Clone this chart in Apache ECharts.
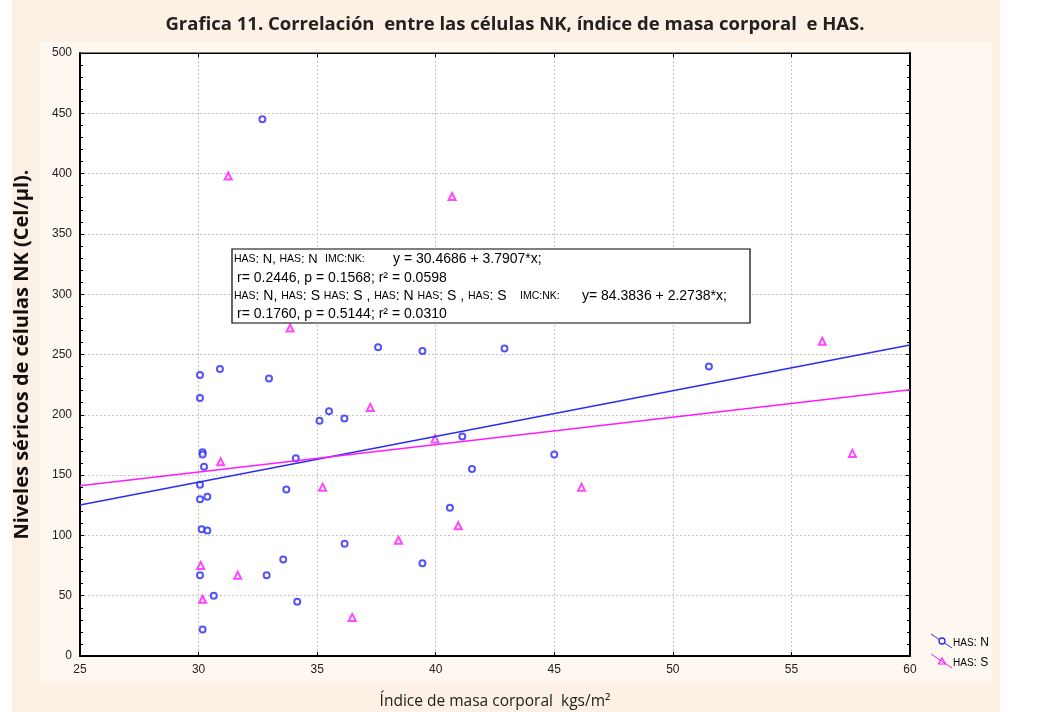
<!DOCTYPE html>
<html>
<head>
<meta charset="utf-8">
<script src="https://cdn.jsdelivr.net/npm/echarts@6/dist/echarts.min.js"></script>
<style>
html,body{margin:0;padding:0;background:#fff;}
#c{width:1052px;height:712px;}
</style>
</head>
<body>
<div id="c"></div>
<script>
// ---- data ----
const title = 'Grafica 11. Correlación  entre las células NK, índice de masa corporal  e HAS.';
const xName = 'Índice de masa corporal  kgs/m²';
const yName = 'Niveles séricos de células NK (Cel/µl).';
const seriesNames = ['HAS: N', 'HAS: S'];

// HAS: N (blue circles)
const nX = [32.69, 30.06, 30.9, 32.97, 30.06, 37.57, 39.44, 42.9, 51.52, 35.5, 35.1, 36.15,
            30.17, 30.17, 30.23, 34.1, 41.12, 41.53, 45.0, 30.06, 33.7, 30.06, 30.37,
            30.13, 30.37, 40.6, 33.57, 30.06, 32.87, 30.64, 34.16, 30.17, 36.16, 39.44];
const nY = [445, 233, 238, 230, 214, 256, 253, 255, 240, 203, 195, 197,
            169, 167, 157, 164, 182, 155, 167, 142, 138, 130, 132,
            105, 104, 123, 80, 67, 67, 50, 45, 22, 93, 77];

// HAS: S (magenta triangles)
const sX = [31.25, 40.69, 33.86, 37.24, 30.93, 35.23, 38.43, 30.09, 31.65, 30.17, 36.48,
            39.97, 40.95, 46.15, 56.3, 57.57];
const sY = [398, 381, 272, 206, 161, 140, 96, 75, 67, 47, 32,
            180, 108, 140, 261, 168];

// regression lines (end points, x = 25 and x = 60)
const fitN = [[25, 125.2], [60, 257.9]];
const fitS = [[25, 141.2], [60, 220.8]];

const xTicks = {min: 25, max: 60, interval: 5};
const yTicks = {min: 0, max: 500, interval: 50};

// stats box text, by line: [group label, "IMC:NK:", equation] or a single text
const boxLine1 = ['{g|HAS}{a|: N, }{g|HAS}{a|: N}', '{g|IMC:NK:}', '{b|y = 30.4686 + 3.7907*x;}'];
const boxLine2 = '{b|r= 0.2446, p = 0.1568; r² = 0.0598}';
const boxLine3 = ['{g|HAS}{b|: N, }{g|HAS}{b|: S }{g|HAS}{b|: S , }{g|HAS}{b|: N }{g|HAS}{b|: S , }{g|HAS}{b|: S}', '{g|IMC:NK:}', '{b|y= 84.3836 + 2.2738*x;}'];
const boxLine4 = '{b|r= 0.1760, p = 0.5144; r² = 0.0310}';

// ---- chart ----
const blue = '#2b2bf5';
const pink = '#ff1aff';
const nData = nX.map((x, i) => [x, nY[i]]);
const sData = sX.map((x, i) => [x, sY[i]]);

const chart = echarts.init(document.getElementById('c'), null, {renderer: 'canvas'});

const richStyles = {
  g: {fontSize: 10.5, color: '#808080', fontFamily: 'Liberation Sans, Arial'},
  a: {fontSize: 13, color: '#000', fontFamily: 'Liberation Sans, Arial'},
  b: {fontSize: 14, color: '#000', fontFamily: 'Liberation Sans, Arial'}
};

const graphics = [
  {type: 'rect', z: -10, silent: true, shape: {x: 12, y: 0, width: 988, height: 712}, style: {fill: '#fcf1e4'}},
  {type: 'rect', z: -9, silent: true, shape: {x: 40, y: 42, width: 952, height: 641}, style: {fill: '#fef8f0'}},
  {type: 'rect', z: 20, shape: {x: 232, y: 249, width: 518, height: 74}, style: {fill: '#fff', stroke: '#000', lineWidth: 1.2}},
];
function addText(t, x, y) {
  graphics.push({type: 'text', z: 21, x: x, y: y,
    style: {text: t, rich: richStyles, verticalAlign: 'middle', align: 'left'}});
}
addText(boxLine1[0], 234, 259);
addText(boxLine1[1], 325, 259);
addText(boxLine1[2], 393, 259);
addText(boxLine2, 237, 278);
addText(boxLine3[0], 234, 296);
addText(boxLine3[1], 520, 296);
addText(boxLine3[2], 582, 296);
addText(boxLine4, 237, 314);

// bottom-right legend
const legY = [641, 661];
const legItems = [
  {color: blue, sym: 'circle'},
  {color: pink, sym: 'triangle'}
];
legItems.forEach((it, i) => {
  const y = legY[i];
  graphics.push({type: 'polyline', z: 21, shape: {points: [[931, y - 7], [952, y + 7]]}, style: {stroke: it.color, lineWidth: 1}});
  if (it.sym === 'circle') {
    graphics.push({type: 'circle', z: 22, shape: {cx: 942, cy: y, r: 3}, style: {fill: '#fff', stroke: it.color, lineWidth: 1.3}});
  } else {
    graphics.push({type: 'polygon', z: 22, shape: {points: [[942, y - 3], [945.5, y + 3], [938.5, y + 3]]}, style: {fill: 'none', stroke: it.color, lineWidth: 1.2}});
  }
  const parts = seriesNames[i].split(':');
  graphics.push({type: 'text', z: 22, x: 953, y: y + 2,
    style: {text: '{g|' + parts[0] + '}{b|:' + parts[1] + '}', rich: {
      g: {fontSize: 10, color: '#808080', fontFamily: 'Liberation Sans, Arial'},
      b: {fontSize: 12, color: '#000', fontFamily: 'Liberation Sans, Arial'}
    }, verticalAlign: 'middle'}});
});

const gridLine = {show: true, lineStyle: {color: '#c4c4c4', type: [2, 2], width: 1}};
const labelFont = {fontFamily: 'Liberation Sans, Arial', fontSize: 12, color: '#222'};

chart.setOption({
  animation: false,
  backgroundColor: '#ffffff',
  title: {
    text: title, left: 510, top: 10, textAlign: 'center',
    textStyle: {fontFamily: 'Open Sans, sans-serif', fontWeight: 'bold', fontSize: 18.5, color: '#222'}
  },
  grid: {left: 80, right: 142, top: 53, bottom: 56, show: true, backgroundColor: '#fff',
         borderColor: '#000', borderWidth: 1, containLabel: false, outerBoundsMode: 'none'},
  xAxis: [{
    type: 'value', min: xTicks.min, max: xTicks.max, interval: xTicks.interval,
    name: xName, nameLocation: 'middle', nameGap: 38,
    nameTextStyle: {fontFamily: 'Open Sans, sans-serif', fontSize: 15.5, color: '#222'},
    axisLine: {show: true, onZero: false, lineStyle: {color: '#000', width: 2}},
    axisTick: {show: true, inside: true, length: 4, lineStyle: {color: '#000'}},
    axisLabel: Object.assign({margin: 8}, labelFont),
    splitLine: gridLine
  }, {
    type: 'value', position: 'top', min: xTicks.min, max: xTicks.max, interval: xTicks.interval,
    axisLine: {show: true, onZero: false, lineStyle: {color: '#000', width: 1}},
    axisTick: {show: true, inside: true, length: 4, lineStyle: {color: '#000'}},
    axisLabel: {show: false}, splitLine: {show: false}
  }],
  yAxis: [{
    type: 'value', min: yTicks.min, max: yTicks.max, interval: yTicks.interval,
    name: yName, nameLocation: 'middle', nameGap: 48, nameRotate: 90,
    nameTextStyle: {fontFamily: 'Open Sans, sans-serif', fontWeight: 'bold', fontSize: 20, color: '#111'},
    axisLine: {show: true, onZero: false, lineStyle: {color: '#000', width: 2}},
    axisTick: {show: true, inside: true, length: 4, lineStyle: {color: '#000'}},
    minorTick: {show: true, splitNumber: 5, length: 3, lineStyle: {color: '#000'}},
    axisLabel: Object.assign({margin: 8}, labelFont),
    splitLine: gridLine
  }, {
    type: 'value', position: 'right', min: yTicks.min, max: yTicks.max, interval: yTicks.interval,
    axisLine: {show: true, onZero: false, lineStyle: {color: '#000', width: 2}},
    axisTick: {show: true, inside: true, length: 4, lineStyle: {color: '#000'}},
    minorTick: {show: true, splitNumber: 5, length: 3, lineStyle: {color: '#000'}},
    axisLabel: {show: false}, splitLine: {show: false}
  }],
  series: [
    {name: seriesNames[0], type: 'scatter', data: nData, symbol: 'emptyCircle', symbolSize: 6,
     itemStyle: {color: blue, borderColor: blue, borderWidth: 1.4}, z: 3},
    {name: seriesNames[1], type: 'scatter', data: sData, symbol: 'emptyTriangle', symbolSize: 7,
     itemStyle: {color: pink, borderColor: pink, borderWidth: 1.3}, z: 3},
    {name: seriesNames[0] + ' fit', type: 'line', data: fitN, showSymbol: false, symbol: 'none',
     lineStyle: {color: blue, width: 1.4}, z: 4},
    {name: seriesNames[1] + ' fit', type: 'line', data: fitS, showSymbol: false, symbol: 'none',
     lineStyle: {color: pink, width: 1.4}, z: 4}
  ],
  graphic: graphics
});
</script>
</body>
</html>
